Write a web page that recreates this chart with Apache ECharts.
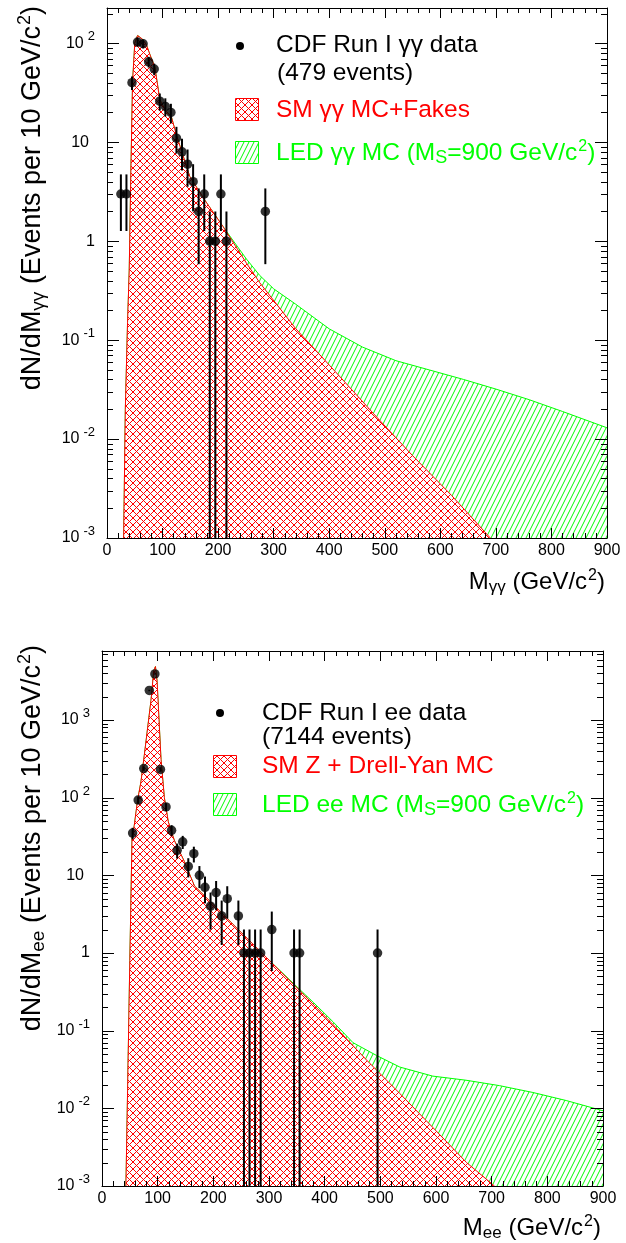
<!DOCTYPE html>
<html><head><meta charset="utf-8">
<script src="https://cdn.jsdelivr.net/npm/echarts@6/dist/echarts.min.js"></script>
<style>html,body{margin:0;padding:0;background:#fff}#c{width:626px;height:1243px}</style>
</head><body><div id="c"></div>
<script>
// ---------------- data ----------------
const massTicks = [0,100,200,300,400,500,600,700,800,900];

// diphoton (gamma gamma) data: bin centres and counts
const ggDataMass   = [25,35,45,55,65,75,85,95,105,115,125,135,145,155,165,175,185,195,205,215,285];
const ggDataCounts = [3,3,40,103,99,65,55,26,23,20,11,8,6,4,2,3,1,1,3,1,2];
// SM gamma gamma MC + fakes (mass, events per 10 GeV)
const ggSmCurve = [[30,0.001],[33,0.02],[37,0.15],[40,0.5],[43,5],[46,40],[50,100],[55,120],[58,121],[64,110],[71,96],[80,70],[86,58],[91,38],[95,27],[105,21],[116,18],[125,11.8],[149,4.5],[176,2.6],[209,1.4],[251,0.6],[275,0.38],[340,0.13],[411,0.048],[480,0.018],[550,0.0068],[620,0.0027],[690,0.001]];
// LED gamma gamma MC (M_S = 900 GeV)
const ggLedCurve = [[30,0.001],[33,0.02],[37,0.15],[40,0.5],[43,5],[46,40],[50,100],[55,120],[58,121],[64,110],[71,96],[80,70],[86,58],[91,38],[95,27],[105,21],[116,18],[125,11.8],[149,4.5],[176,2.6],[209,1.4],[251,0.66],[275,0.45],[300,0.33],[340,0.23],[400,0.13],[460,0.085],[520,0.062],[580,0.05],[642,0.04],[700,0.032],[760,0.025],[820,0.019],[900,0.013]];

// dielectron data
const eeDataMass   = [55,65,75,85,95,105,115,125,135,145,155,165,175,185,195,205,215,225,245,255,265,275,285,305,345,355,495];
const eeDataCounts = [35,93,237,2397,3910,231,76,38,21,27,13,19,10,7,4,6,3,5,3,1,1,1,1,2,1,1,1];
// SM Z + Drell-Yan MC
const eeSmCurve = [[43,0.001],[46,0.017],[50,0.8],[54,30],[58,44],[64,93],[70,160],[76,350],[82,790],[88,1780],[93,4300],[96,4870],[99,3100],[103,830],[106,310],[112,100],[119,49],[130,28],[148,15],[166,7.3],[200,4.2],[235,2.35],[295,0.88],[355,0.33],[415,0.12],[475,0.042],[535,0.0155],[595,0.0056],[655,0.002],[705,0.001]];
// LED ee MC (M_S = 900 GeV)
const eeLedCurve = [[43,0.001],[46,0.017],[50,0.8],[54,30],[58,44],[64,93],[70,160],[76,350],[82,790],[88,1780],[93,4300],[96,4870],[99,3100],[103,830],[106,310],[112,100],[119,49],[130,28],[148,15],[166,7.3],[200,4.2],[235,2.35],[295,0.88],[355,0.34],[380,0.23],[415,0.13],[451,0.07],[493,0.048],[535,0.034],[594,0.026],[654,0.023],[714,0.0196],[774,0.016],[834,0.0126],[900,0.0093]];

// ---------------- styling helpers ----------------
const FONT = '"Liberation Sans", Arial, Helvetica, sans-serif';
const RED = '#ff0000', GREEN = '#00ff00';
const YMIN = 0.001;

function crossPattern(color){
  const s = 7, c = document.createElement('canvas'); c.width = s; c.height = s;
  const g = c.getContext('2d'); g.fillStyle = '#fff'; g.fillRect(0,0,s,s);
  g.strokeStyle = color; g.lineWidth = 1; g.beginPath();
  for (const o of [-s,0,s]) { g.moveTo(o,0); g.lineTo(o+s,s); g.moveTo(o+s,0); g.lineTo(o,s); }
  g.stroke(); return c;
}
function slashPattern(color){
  const w = 5, h = 10, c = document.createElement('canvas'); c.width = w; c.height = h;
  const g = c.getContext('2d'); g.fillStyle = '#fff'; g.fillRect(0,0,w,h);
  g.strokeStyle = color; g.lineWidth = 1; g.beginPath();
  for (const o of [-w,0,w]) { g.moveTo(o,h); g.lineTo(o+w,0); }
  g.stroke(); return c;
}
const redFill = {image: crossPattern(RED), repeat: 'repeat'};
const greenFill = {image: slashPattern(GREEN), repeat: 'repeat'};

function decadeLabel(v){
  const l = Math.log10(v), e = Math.round(l);
  if (Math.abs(l - e) > 1e-6) return '';
  if (e === 0) return '1';
  if (e === 1) return '{p|10}';
  return '10{s|' + e + '}';
}
const yLabelRich = {
  s: {fontSize: 13, fontFamily: FONT, color: '#000', padding: [0,0,13,4]},
  p: {fontSize: 16, fontFamily: FONT, color: '#000', padding: [0,6,0,0]}
};

function xAxes(gi){
  const common = {gridIndex: gi, type: 'value', min: 0, max: 900, interval: 100, z: 10,
    axisLine: {show: true, onZero: false, lineStyle: {color: '#000', width: 1}},
    axisTick: {show: true, inside: true, length: 10, lineStyle: {color: '#000'}},
    minorTick: {show: true, splitNumber: 5, length: 5, lineStyle: {color: '#000'}},
    splitLine: {show: false}, minorSplitLine: {show: false}};
  return [
    Object.assign({}, common, {position: 'bottom', axisLabel: {show: true, margin: 5, fontSize: 16, fontFamily: FONT, color: '#000',
      formatter: v => massTicks.includes(v) ? String(v) : ''}}),
    Object.assign({}, common, {position: 'top', axisLabel: {show: false}})
  ];
}
function yAxes(gi, ymax){
  const common = {gridIndex: gi, type: 'log', logBase: 10, min: YMIN, max: ymax, z: 10,
    axisLine: {show: true, onZero: false, lineStyle: {color: '#000', width: 1}},
    axisTick: {show: false}, minorTick: {show: false}, splitLine: {show: false}};
  return [
    Object.assign({}, common, {position: 'left', axisLabel: {show: true, margin: 12, fontSize: 16, fontFamily: FONT, color: '#000',
      showMaxLabel: false, formatter: decadeLabel, rich: yLabelRich}}),
    Object.assign({}, common, {position: 'right', axisLabel: {show: false}})
  ];
}

function yTickSeries(ai, ymax){
  const data = [];
  for (let e = -3; e <= 4; e++) for (let k = 1; k <= 9; k++) {
    const v = k * Math.pow(10, e);
    if (v >= YMIN * 0.999 && v <= ymax) data.push([0, v, k === 1 ? 12 : 6]);
  }
  return {type: 'custom', xAxisIndex: ai, yAxisIndex: ai, silent: true, z: 10, data,
    renderItem(params, api){
      const v = api.value(1), L = api.value(2);
      const a = api.coord([0, v]), b = api.coord([900, v]);
      const y = Math.round(a[1]) + 0.5;
      return {type: 'group', children: [
        {type: 'line', shape: {x1: a[0], y1: y, x2: a[0] + L, y2: y}, style: {stroke: '#000', lineWidth: 1}},
        {type: 'line', shape: {x1: b[0], y1: y, x2: b[0] - L, y2: y}, style: {stroke: '#000', lineWidth: 1}}
      ]};
    }};
}
function errSeries(ai, xs, ns){
  const data = xs.map((x, i) => [x, ns[i], Math.max(ns[i] - Math.sqrt(ns[i]), YMIN), ns[i] + Math.sqrt(ns[i])]);
  return {type: 'custom', xAxisIndex: ai, yAxisIndex: ai, silent: true, z: 6, data,
    renderItem(params, api){
      const lo = api.coord([api.value(0), api.value(2)]), hi = api.coord([api.value(0), api.value(3)]);
      return {type: 'line', shape: {x1: lo[0], y1: lo[1], x2: hi[0], y2: hi[1]}, style: {stroke: '#000', lineWidth: 2}};
    }};
}
function areaSeries(ai, curve, color, fill, z){
  return {type: 'line', xAxisIndex: ai, yAxisIndex: ai, data: curve, symbol: 'none', silent: true, z,
    lineStyle: {color, width: 1}, areaStyle: {color: fill, opacity: 1, origin: 'start'}};
}
function dotSeries(ai, xs, ns){
  return {type: 'scatter', xAxisIndex: ai, yAxisIndex: ai, data: xs.map((x, i) => [x, ns[i]]),
    symbol: 'circle', symbolSize: 9.5, itemStyle: {color: '#000'}, z: 7, silent: true};
}

function richFor(color, base){
  return {
    sub: {fontSize: Math.round(base*0.72), fontFamily: FONT, fill: color, padding: [Math.round(base*0.45),0,0,0]},
    sup: {fontSize: Math.round(base*0.66), fontFamily: FONT, fill: color, padding: [0,0,Math.round(base*0.55),1]}
  };
}
function txt(x, y, text, color, size, align, rot){
  return {type: 'text', x, y, rotation: rot || 0, z: 20, silent: true,
    style: {text, fill: color, font: size + 'px ' + FONT, fontSize: size, fontFamily: FONT,
      align: align || 'left', verticalAlign: 'middle', textAlign: align || 'left', textVerticalAlign: 'middle',
      rich: richFor(color, size)}};
}
function box(x, y, w, h, color, fill){
  return {type: 'rect', z: 20, silent: true, shape: {x, y, width: w, height: h},
    style: {fill, stroke: color, lineWidth: 1}};
}

const chart = echarts.init(document.getElementById('c'), null, {renderer: 'canvas'});
chart.setOption({
  animation: false,
  backgroundColor: '#fff',
  grid: [
    {left: 107, top: 8, width: 500, height: 530},
    {left: 102, top: 651, width: 501, height: 535}
  ],
  xAxis: [...xAxes(0), ...xAxes(1)],
  yAxis: [...yAxes(0, 227.5), ...yAxes(1, 7727)],
  series: [
    areaSeries(0, ggLedCurve, GREEN, greenFill, 2),
    areaSeries(0, ggSmCurve, RED, redFill, 3),
    errSeries(0, ggDataMass, ggDataCounts),
    dotSeries(0, ggDataMass, ggDataCounts),
    yTickSeries(0, 227.5),
    areaSeries(2, eeLedCurve, GREEN, greenFill, 2),
    areaSeries(2, eeSmCurve, RED, redFill, 3),
    errSeries(2, eeDataMass, eeDataCounts),
    dotSeries(2, eeDataMass, eeDataCounts),
    yTickSeries(2, 7727)
  ],
  graphic: [
    // axis titles
    txt(33, 6, 'dN/dM{sub|γγ} (Events per 10 GeV/c{sup|2})', '#000', 27, 'right', Math.PI/2),
    txt(605, 582, 'M{sub|γγ} (GeV/c{sup|2})', '#000', 24, 'right'),
    txt(33, 645, 'dN/dM{sub|ee} (Events per 10 GeV/c{sup|2})', '#000', 27, 'right', Math.PI/2),
    txt(601, 1228, 'M{sub|ee} (GeV/c{sup|2})', '#000', 24, 'right'),
    // legend, top panel
    {type: 'circle', z: 20, silent: true, shape: {cx: 240, cy: 46, r: 4}, style: {fill: '#000'}},
    txt(276, 45, 'CDF Run I γγ data', '#000', 24.5),
    txt(277, 73, '(479 events)', '#000', 24.5),
    box(235.5, 98.5, 23, 22, RED, redFill),
    txt(276, 110, 'SM γγ MC+Fakes', RED, 24.5),
    box(235.5, 141.5, 23, 22, GREEN, greenFill),
    txt(276, 153, 'LED γγ MC (M{sub|S}=900 GeV/c{sup|2})', GREEN, 24.5),
    // legend, bottom panel
    {type: 'circle', z: 20, silent: true, shape: {cx: 220, cy: 713, r: 4}, style: {fill: '#000'}},
    txt(262, 713, 'CDF Run I ee data', '#000', 24.5),
    txt(262, 737, '(7144 events)', '#000', 24.5),
    box(213.5, 755.5, 23, 22, RED, redFill),
    txt(262, 766, 'SM Z + Drell-Yan MC', RED, 24.5),
    box(213.5, 793.5, 23, 22, GREEN, greenFill),
    txt(262, 805, 'LED ee MC (M{sub|S}=900 GeV/c{sup|2})', GREEN, 24.5)
  ]
});
</script></body></html>
